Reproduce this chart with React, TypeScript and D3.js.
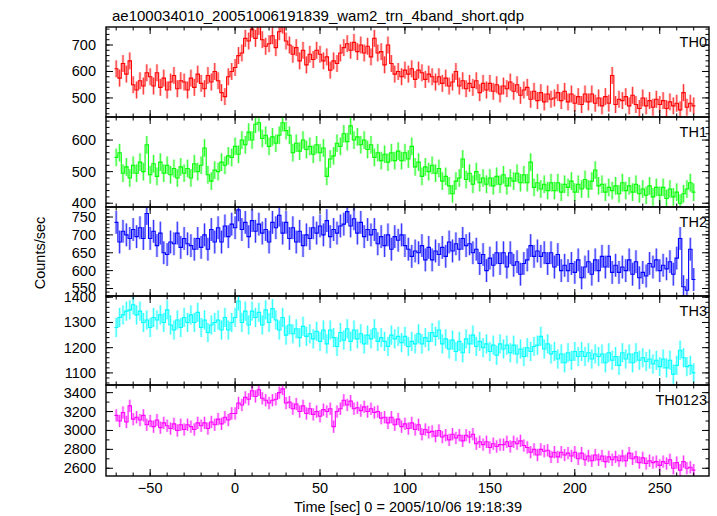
import * as d3 from "d3";

// bin centres, 2 s bins
const times = d3.range(-70, 271, 2);

const th0 = [
  610, 575, 630, 590, 640, 550, 530, 565, 545, 595,
  580, 545, 595, 540, 575, 530, 560, 585, 535, 565,
  560, 530, 575, 540, 590, 555, 535, 585, 560, 600,
  565, 520, 505, 580, 600, 615, 660, 670, 725, 715,
  760, 725, 770, 720, 695, 705, 735, 690, 750, 775,
  715, 700, 665, 690, 640, 680, 625, 665, 645, 680,
  665, 640, 655, 605, 640, 630, 670, 690, 705, 680,
  710, 675, 700, 670, 695, 655, 725, 670, 675, 625,
  700, 630, 590, 600, 580, 605, 590, 610, 570, 605,
  595, 570, 590, 580, 560, 580, 555, 575, 545, 560,
  600, 545, 565, 535, 555, 540, 565, 520, 555, 530,
  555, 525, 550, 515, 545, 535, 560, 525, 550, 510,
  530, 540, 495, 525, 490, 520, 485, 515, 495, 500,
  520, 490, 525, 485, 515, 480, 505, 475, 515, 485,
  515, 480, 500, 470, 505, 480, 585, 475, 495, 490,
  505, 470, 510, 475, 460, 500, 470, 490, 465, 495,
  475, 490, 460, 485, 470, 480, 455, 520, 465, 480,
  470,
];

const th1 = [
  545, 560, 495, 515, 480, 520, 495, 530, 500, 585,
  490, 525, 485, 530, 495, 520, 490, 510, 480, 515,
  495, 510, 480, 525, 500, 520, 575, 490, 470, 505,
  500, 530, 520, 550, 545, 580, 555, 600, 585, 625,
  600, 650, 655, 605, 615, 580, 610, 590, 615, 655,
  630, 615, 560, 590, 565, 600, 570, 580, 555, 585,
  560, 575, 485, 540, 550, 590, 580, 620, 595, 645,
  600, 610, 585, 600, 570, 585, 545, 560, 535, 555,
  530, 560, 535, 565, 535, 560, 540, 580, 515, 530,
  485, 515, 500, 520, 495, 510, 470, 485, 455, 430,
  470, 480, 540, 475, 495, 460, 500, 465, 480, 460,
  480, 455, 485, 460, 490, 455, 480, 470, 495, 465,
  490, 465, 530, 450, 465, 445, 460, 440, 465, 440,
  465, 435, 460, 450, 470, 435, 460, 445, 475, 445,
  470, 505, 455, 460, 435, 450, 440, 455, 430, 465,
  440, 455, 435, 460, 430, 445, 425, 455, 420, 450,
  425, 450, 415, 445, 420, 435, 400, 430, 445, 465,
  435,
];

const th2 = [
  735, 680, 710, 700, 690, 715, 695, 720, 690, 760,
  690, 710, 670, 705, 650, 645, 680, 675, 705, 665,
  690, 675, 670, 660, 690, 665, 700, 660, 715, 680,
  720, 680, 725, 695, 730, 720, 770, 715, 735, 695,
  740, 710, 730, 705, 715, 680, 735, 720, 755, 705,
  735, 690, 720, 680, 710, 670, 700, 690, 720, 705,
  725, 700, 740, 695, 715, 705, 725, 730, 765, 725,
  745, 705, 735, 695, 715, 700, 715, 675, 695, 670,
  700, 660, 695, 685, 700, 670, 660, 640, 655, 650,
  670, 630, 665, 630, 655, 645, 665, 640, 680, 655,
  675, 660, 690, 670, 675, 650, 660, 620, 645, 600,
  635, 615, 650, 620, 650, 610, 650, 615, 625, 590,
  620, 630, 670, 640, 655, 640, 650, 620, 650, 610,
  645, 600, 615, 600, 620, 595, 630, 580, 610, 625,
  590, 630, 600, 640, 610, 640, 595, 615, 595, 610,
  600, 630, 590, 625, 580, 595, 585, 620, 610, 630,
  600, 615, 605, 625, 590, 635, 690, 555, 545, 660,
  575,
];

const th3 = [
  1280, 1320, 1330, 1345, 1350, 1370, 1330, 1345, 1300, 1310,
  1280, 1320, 1310, 1330, 1300, 1350, 1290, 1270, 1310, 1280,
  1320, 1300, 1330, 1300, 1340, 1280, 1310, 1260, 1290, 1300,
  1310, 1270, 1320, 1270, 1300, 1320, 1385, 1300, 1345, 1290,
  1345, 1320, 1340, 1290, 1350, 1300, 1355, 1310, 1270, 1320,
  1250, 1290, 1255, 1275, 1240, 1285, 1245, 1255, 1235, 1265,
  1225, 1270, 1215, 1270, 1240, 1205, 1260, 1230, 1275, 1225,
  1270, 1235, 1255, 1215, 1250, 1235, 1275, 1225, 1240, 1225,
  1205, 1250, 1235, 1245, 1220, 1245, 1205, 1225, 1215, 1255,
  1215, 1240, 1225, 1260, 1245, 1270, 1215, 1235, 1195, 1230,
  1185, 1225, 1180, 1235, 1215, 1250, 1205, 1225, 1200, 1215,
  1185, 1210, 1170, 1215, 1195, 1210, 1180, 1210, 1175, 1195,
  1165, 1200, 1185, 1205, 1210, 1245, 1195, 1215, 1175, 1185,
  1155, 1175, 1140, 1180, 1150, 1185, 1165, 1185, 1165, 1180,
  1155, 1175, 1165, 1175, 1140, 1180, 1150, 1165, 1130, 1180,
  1155, 1175, 1140, 1180, 1150, 1160, 1145, 1155, 1135, 1150,
  1125, 1155, 1120, 1150, 1095, 1130, 1190, 1160, 1125, 1130,
  1100,
];

const th0123 = [
  3160, 3100, 3190, 3090, 3260, 3120, 3140, 3110, 3160, 3060,
  3100, 3040, 3110, 3030, 3080, 3050, 3020, 3070, 3000, 3060,
  3010, 3060, 3040, 3010, 3080, 3050, 3080, 3020, 3090, 3060,
  3120, 3070, 3140, 3110, 3180, 3180, 3290, 3270, 3350, 3330,
  3420, 3360, 3430, 3340, 3320, 3290, 3320, 3330, 3400, 3440,
  3290, 3300, 3230, 3280, 3200, 3260, 3180, 3230, 3170, 3200,
  3150, 3220, 3200, 3230, 3040, 3200, 3230, 3320, 3270, 3310,
  3230, 3240, 3210, 3250, 3200, 3230, 3190, 3200, 3130, 3140,
  3080, 3140, 3060, 3120, 3040, 3070, 3020, 3080, 3010, 3060,
  2960, 3010, 2980, 2990, 2940, 3000, 2930, 2950, 2900, 2960,
  2920, 2950, 2890, 2950, 2930, 2960, 2860, 2880, 2850, 2880,
  2820, 2860, 2830, 2850, 2850, 2880, 2830, 2880, 2860, 2890,
  2840, 2820, 2770, 2800, 2740, 2800, 2780, 2790, 2720, 2770,
  2720, 2770, 2740, 2760, 2730, 2770, 2700, 2760, 2690, 2730,
  2680, 2740, 2690, 2730, 2670, 2720, 2690, 2720, 2680, 2730,
  2680, 2760, 2700, 2720, 2660, 2710, 2650, 2680, 2660, 2670,
  2630, 2670, 2650, 2690, 2600, 2660, 2580, 2670, 2600, 2610,
  2580,
];

const bandNames = ["TH0", "TH1", "TH2", "TH3", "TH0123"];
const bandValues = [th0, th1, th2, th3, th0123];
const bandErrors = [32, 28, 32, 38, 65];
const bandDomains: [number, number][] = [
  [428, 768],
  [388, 673],
  [529, 778],
  [1052, 1405],
  [2518, 3481],
];
const majorSteps = [100, 100, 50, 100, 200];
const minorSteps = [20, 20, 10, 20, 100];
const colors = ["#ff0000", "#00ff00", "#0000ff", "#00ffff", "#ff00ff"];

const title = "ae100034010_20051006191839_wam2_trn_4band_short.qdp";
const xTitle = "Time [sec] 0 = 2005/10/06 19:18:39";
const yTitle = "Counts/sec";

const W = 717;
const H = 516;
const left = 106;
const right = 709;
const edges = [27, 117, 207, 296, 385, 476];
const font = "'Liberation Sans', Helvetica, Arial, sans-serif";
const binHalf = 1;

function ticksOf(domain: [number, number], step: number) {
  return d3.range(Math.ceil(domain[0] / step) * step, domain[1] + 1e-9, step);
}

function Panel({ i, x }: { i: number; x: d3.ScaleLinear<number, number> }) {
  const top = edges[i];
  const bottom = edges[i + 1];
  const y = d3.scaleLinear().domain(bandDomains[i]).range([bottom, top]);
  const vals = bandValues[i];
  const err = bandErrors[i];
  const col = colors[i];
  const major = ticksOf(bandDomains[i], majorSteps[i]);
  const minor = ticksOf(bandDomains[i], minorSteps[i]);
  const xMajor = ticksOf(x.domain() as [number, number], 50);
  const xMinor = ticksOf(x.domain() as [number, number], 10);
  const clipId = `clip-${i}`;

  // histogram-style step through the bins
  const stepPts: [number, number][] = [];
  vals.forEach((v, k) => {
    stepPts.push([times[k] - binHalf, v]);
    stepPts.push([times[k] + binHalf, v]);
  });
  const step = d3
    .line<[number, number]>()
    .x((d) => x(d[0]))
    .y((d) => y(d[1]));

  return (
    <g>
      <clipPath id={clipId}>
        <rect x={left} y={top} width={right - left} height={bottom - top} />
      </clipPath>
      <g clipPath={`url(#${clipId})`}>
        <g fill={col} fillOpacity={0.25}>
          {vals.map((v, k) => (
            <rect
              key={k}
              x={x(times[k] - binHalf * 0.8)}
              width={x(times[k] + binHalf * 0.8) - x(times[k] - binHalf * 0.8)}
              y={y(v + err)}
              height={y(v - err) - y(v + err)}
            />
          ))}
        </g>
        <g stroke={col} strokeOpacity={0.75} strokeWidth={1}>
          {vals.map((v, k) => (
            <line key={k} x1={x(times[k])} x2={x(times[k])} y1={y(v - err)} y2={y(v + err)} />
          ))}
        </g>
        <path d={step(stepPts) ?? ""} fill="none" stroke={col} strokeWidth={1.1} />
      </g>
      <g stroke="#000" strokeWidth={1}>
        {minor.map((t) => (
          <g key={"m" + t}>
            <line x1={left} x2={left + 3.5} y1={y(t)} y2={y(t)} />
            <line x1={right} x2={right - 3.5} y1={y(t)} y2={y(t)} />
          </g>
        ))}
        {major.map((t) => (
          <g key={"M" + t}>
            <line x1={left} x2={left + 7} y1={y(t)} y2={y(t)} />
            <line x1={right} x2={right - 7} y1={y(t)} y2={y(t)} />
          </g>
        ))}
        {xMinor.map((t) => (
          <g key={"xm" + t}>
            <line x1={x(t)} x2={x(t)} y1={top} y2={top + 3.5} />
            <line x1={x(t)} x2={x(t)} y1={bottom} y2={bottom - 3.5} />
          </g>
        ))}
        {xMajor.map((t) => (
          <g key={"xM" + t}>
            <line x1={x(t)} x2={x(t)} y1={top} y2={top + 7} />
            <line x1={x(t)} x2={x(t)} y1={bottom} y2={bottom - 7} />
          </g>
        ))}
      </g>
      <rect x={left} y={top} width={right - left} height={bottom - top} fill="none" stroke="#000" strokeWidth={1.4} />
      <g fontFamily={font} fontSize={14.5} fill="#000" textAnchor="end">
        {major.map((t) => (
          <text key={t} x={left - 10} y={y(t) + 5}>
            {t}
          </text>
        ))}
      </g>
      <text x={right - 2} y={top + 20} fontFamily={font} fontSize={14.5} textAnchor="end">
        {bandNames[i]}
      </text>
    </g>
  );
}

export default function App() {
  const x = d3.scaleLinear().domain([-76, 279]).range([left, right]);
  const xLabels = ticksOf([-76, 279], 50);
  return (
    <svg
      width={W}
      height={H}
      style={{ position: "absolute", left: 0, top: 0, background: "#fff" }}
    >
      <rect width={W} height={H} fill="#fff" />
      <text x={112} y={21} fontFamily={font} fontSize={15}>
        {title}
      </text>
      {bandNames.map((_, i) => (
        <Panel key={i} i={i} x={x} />
      ))}
      <g fontFamily={font} fontSize={14.5} textAnchor="middle">
        {xLabels.map((t) => (
          <text key={t} x={x(t)} y={493}>
            {t < 0 ? "\u2212" + Math.abs(t) : t}
          </text>
        ))}
      </g>
      <text x={408} y={512} fontFamily={font} fontSize={14.5} textAnchor="middle">
        {xTitle}
      </text>
      <text
        transform="translate(45,253) rotate(-90)"
        fontFamily={font}
        fontSize={14.5}
        textAnchor="middle"
      >
        {yTitle}
      </text>
    </svg>
  );
}
